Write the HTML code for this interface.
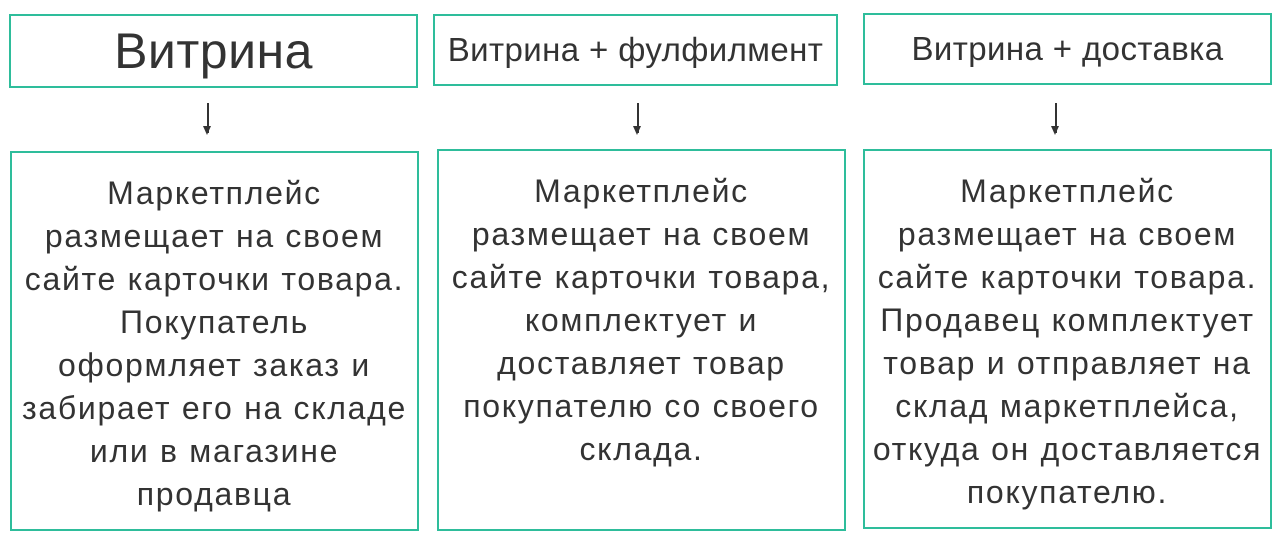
<!DOCTYPE html>
<html><head><meta charset="utf-8"><style>
body{margin:0;width:1280px;height:536px;background:#fff;position:relative;overflow:hidden;font-family:"Liberation Sans","DejaVu Sans",sans-serif;color:#333;}
.b{position:absolute;box-sizing:border-box;border:2px solid #2ebd9b;display:flex;align-items:center;justify-content:center;text-align:center;white-space:nowrap;}
.t{font-size:33px;letter-spacing:0.4px;}
.p{font-size:32px;letter-spacing:1.7px;line-height:43px;align-items:flex-start;padding-top:19px;}
.a{position:absolute;width:1.5px;height:30px;background:#333;}
.a:after{content:"";position:absolute;left:-4px;bottom:-2px;border-left:4.75px solid transparent;border-right:4.75px solid transparent;border-top:9px solid #333;}
</style></head><body>
<div class="b" style="left:9px;top:14px;width:409px;height:74px;font-size:50px;letter-spacing:0.5px;">Витрина</div>
<div class="b t" style="left:433px;top:14px;width:405px;height:72px;">Витрина + фулфилмент</div>
<div class="b t" style="left:863px;top:13px;width:409px;height:72px;">Витрина + доставка</div>
<div class="a" style="left:207px;top:103px;"></div>
<div class="a" style="left:637px;top:103px;"></div>
<div class="a" style="left:1055px;top:103px;"></div>
<div class="b p" style="left:10px;top:151px;width:409px;height:380px;">Маркетплейс<br>размещает на своем<br>сайте карточки товара.<br>Покупатель<br>оформляет заказ и<br>забирает его на складе<br>или в магазине<br>продавца</div>
<div class="b p" style="left:437px;top:149px;width:409px;height:382px;">Маркетплейс<br>размещает на своем<br>сайте карточки товара,<br>комплектует и<br>доставляет товар<br>покупателю со своего<br>склада.</div>
<div class="b p" style="left:863px;top:149px;width:409px;height:380px;">Маркетплейс<br>размещает на своем<br>сайте карточки товара.<br>Продавец комплектует<br>товар и отправляет на<br>склад маркетплейса,<br>откуда он доставляется<br>покупателю.</div>
</body></html>
